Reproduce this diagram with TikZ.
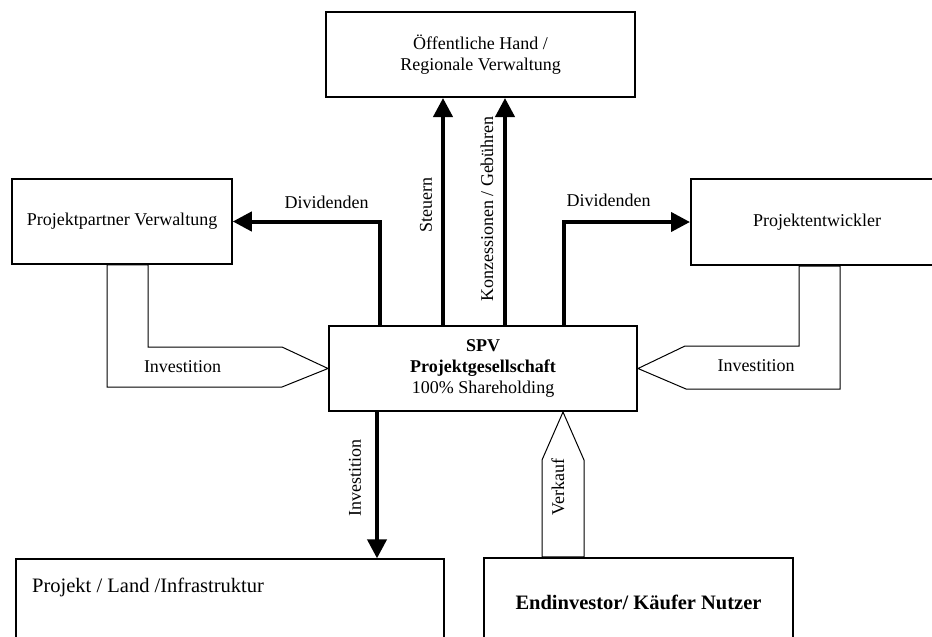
\documentclass[tikz,border=0pt]{standalone}
\usepackage{fontspec}
\setmainfont{Liberation Serif}
\usetikzlibrary{arrows.meta}
\begin{document}
\begin{tikzpicture}[x=1pt,y=-1pt,
  box/.style={draw, line width=1.5pt, inner sep=0pt, align=center, font=\fontsize{18}{21}\selectfont},
  lbl/.style={font=\fontsize{18}{21}\selectfont, inner sep=0pt},
  bigarrow/.style={line width=4pt, line join=miter, -{Triangle[length=19pt,width=19pt]}},
  hollow/.style={draw, line width=1pt, line join=miter},
]
\useasboundingbox (0,0) rectangle (932,637);
\clip (0,0) rectangle (932,637);
\fill[white] (0,0) rectangle (932,637);

% boxes
\node[box, line width=2pt, minimum width=309pt, minimum height=85pt] (pub) at (480.5,54.5) {Öffentliche Hand /\\Regionale Verwaltung};
\node[box, minimum width=220pt, minimum height=85pt] (pp) at (122,221.5) {Projektpartner Verwaltung};
\node[box, line width=2pt, minimum width=252pt, minimum height=86pt] (pe) at (817,222) {Projektentwickler};
\node[box, line width=2pt, minimum width=308pt, minimum height=85pt] (spv) at (483,368.5) {\textbf{SPV}\\\textbf{Projektgesellschaft}\\100\% Shareholding};
\node[box, line width=1.3pt, minimum width=428pt, minimum height=140pt] (proj) at (230,629) {};
\node[lbl, anchor=west, font=\fontsize{20.5}{24}\selectfont] (projt) at (32,587) {Projekt / Land /Infrastruktur};
\node[box, line width=2.5pt, minimum width=309pt, minimum height=88pt, font=\bfseries\fontsize{20.5}{24}\selectfont] (end) at (638.5,602) {Endinvestor/ Käufer Nutzer};

% x positions of the connectors
\coordinate (xd1) at (380,0);
\coordinate (xst) at (443,0);
\coordinate (xko) at (505,0);
\coordinate (xd2) at (564,0);
\coordinate (xin) at (377,0);
\coordinate (vt) at (563,0);

% thick arrows
\draw[bigarrow] (spv.north -| xd1) |- (pp.east);
\draw[bigarrow] (spv.north -| xst) -- (pub.south -| xst);
\draw[bigarrow] (spv.north -| xko) -- (pub.south -| xko);
\draw[bigarrow] (spv.north -| xd2) |- (pe.west);
\draw[bigarrow] (spv.south -| xin) -- (proj.north -| xin);

% hollow arrows
\coordinate (la) at (148,347);
\coordinate (lb) at (282,347);
\coordinate (lc) at (282,387);
\coordinate (ld) at (107,387);
\draw[hollow] (pp.south -| la) -- (la) -- (lb) -- (spv.west) -- (lc) -- (ld) -- (pp.south -| ld) -- cycle;

\coordinate (ra) at (799,346);
\coordinate (rb) at (685,346);
\coordinate (rc) at (686,389);
\coordinate (rd) at (840,389);
\draw[hollow] (pe.south -| ra) -- (ra) -- (rb) -- (spv.east) -- (rc) -- (rd) -- (pe.south -| rd) -- cycle;

\coordinate (va) at (542,460);
\coordinate (vb) at (584,460);
\draw[hollow] (end.north -| va) -- (va) -- (spv.south -| vt) -- (vb) -- (end.north -| vb) -- cycle;

% labels
\node[lbl] (l1) at (326.5,202) {Dividenden};
\node[lbl] (l2) at (608.5,200) {Dividenden};
\node[lbl, rotate=90] (l3) at (426,205) {Steuern};
\node[lbl, rotate=90] (l4) at (487,209) {Konzessionen / Gebühren};
\node[lbl, rotate=90] (l5) at (355,478) {Investition};
\node[lbl, rotate=90] (l6) at (558,487) {Verkauf};
\node[lbl] (l7) at (182.5,367) {Investition};
\node[lbl] (l8) at (756,366) {Investition};
\end{tikzpicture}
\end{document}
